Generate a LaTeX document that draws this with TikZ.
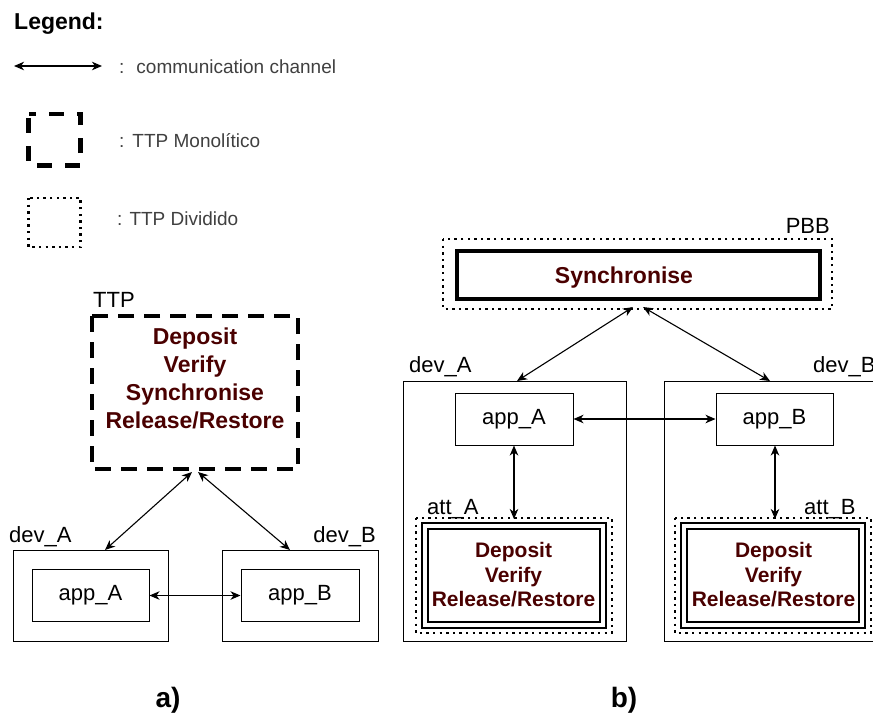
\documentclass[tikz,border=0pt]{standalone}
\usepackage{fontspec}
\setmainfont{Liberation Sans}
\usetikzlibrary{arrows.meta,calc}

\definecolor{fn}{HTML}{4A0000}
\definecolor{legendgray}{HTML}{404040}

\tikzset{
  chan/.style={{Stealth[length=10pt,width=8.5pt,inset=3pt]}-{Stealth[length=10pt,width=8.5pt,inset=3pt]}, line width=1.1pt},
  devbox/.style={draw, line width=1pt},
  appbox/.style={draw, line width=1pt, font=\fontsize{22}{26}\selectfont, inner sep=0pt},
  lbl/.style={font=\fontsize{22}{26}\selectfont, inner sep=0pt},
  monolith/.style={draw, line width=4.2pt, dash pattern=on 16pt off 10pt},
  split/.style={draw, line width=2.6pt, dash pattern=on 2.4pt off 4.2pt},
  funcbig/.style={font=\bfseries\fontsize{23}{28}\selectfont, text=fn, align=center, inner sep=0pt},
  funcsmall/.style={font=\bfseries\fontsize{21}{24.5}\selectfont, text=fn, align=center, inner sep=0pt},
  enclave/.style={draw, line width=2pt, double distance=4pt},
  legtxt/.style={font=\fontsize{19}{22}\selectfont, text=legendgray, inner sep=0pt, anchor=base west},
  panel/.style={font=\bfseries\fontsize{28}{32}\selectfont, inner sep=0pt, anchor=base},
}

\begin{document}
\begin{tikzpicture}[x=1pt,y=-1pt]
\clip (0,0) rectangle (873,715);
\fill[white] (0,0) rectangle (873,715);

% ---------------- legend ----------------
\node[font=\bfseries\fontsize{23}{27}\selectfont, inner sep=0pt, anchor=base west] (legend) at (14,29) {Legend:};

\coordinate (lgA) at (14,66);
\coordinate (lgB) at (102,66);
\draw[chan] (lgA) -- (lgB);
\node[legtxt] (lgchan) at (119,73) {:\hspace{12pt}communication channel};

\draw[monolith, line width=4.5pt, dash pattern=on 15pt off 13pt, dash phase=-4pt] (28.5,114) rectangle (80.5,165.5);
\node[legtxt] (lgmono) at (119,147) {:\hspace{8pt}TTP Monolítico};

\draw[split] (28.5,198) rectangle (80.5,247);
\node[legtxt] (lgsplit) at (117,225) {: TTP Dividido};

% ---------------- a) monolithic TTP ----------------
\draw[monolith] (92,316) rectangle (298,469);
\coordinate (ttpS) at (195,471);
\node[lbl, anchor=base west] (ttplbl) at (93,307) {TTP};
\node[funcbig, anchor=north] (ttpfun) at (195,327.5) {Deposit\\Verify\\Synchronise\\Release/Restore};

\node[devbox, minimum width=155pt, minimum height=91pt, anchor=north west] (devAa) at (13,550) {};
\node[devbox, minimum width=156pt, minimum height=91pt, anchor=north west] (devBa) at (222,550) {};
\node[lbl, anchor=base west] (devAalbl) at (9,542) {dev\_A};
\node[lbl, anchor=base east] (devBalbl) at (376,542) {dev\_B};

\node[appbox, minimum width=117pt, minimum height=52pt] (appAa) at (90.5,595.5) {app\_A};
\node[appbox, minimum width=118pt, minimum height=52pt] (appBa) at (300,595.5) {app\_B};

\draw[chan] ($(ttpS)+(-3,1)$) -- ($(devAa.north west)+(92,0)$);
\draw[chan] ($(ttpS)+(3,1)$) -- ($(devBa.north west)+(68,0)$);
\draw[chan] (appAa.east) -- (appBa.west);

% ---------------- b) split TTP ----------------
\draw[split] (443,239) rectangle (832,309);
\node[lbl, anchor=base east] (pbblbl) at (830,233) {PBB};
\draw[line width=3.6pt] (457,251) rectangle (820,299);
\coordinate (pbbS) at (638,307);
\node[font=\bfseries\fontsize{23}{28}\selectfont, text=fn, inner sep=0pt, anchor=base] (sync) at (624,283) {Synchronise};

\node[devbox, minimum width=223pt, minimum height=260pt, anchor=north west] (devAb) at (403,381) {};
\node[devbox, minimum width=223pt, minimum height=260pt, anchor=north west] (devBb) at (664,381) {};
\node[lbl, anchor=base west] (devAblbl) at (409,372) {dev\_A};
\node[lbl, anchor=base west] (devBblbl) at (813,372) {dev\_B};

\node[appbox, minimum width=118pt, minimum height=52pt] (appAb) at (514,419) {app\_A};
\node[appbox, minimum width=117pt, minimum height=52pt] (appBb) at (774.5,419) {app\_B};

% attested enclaves
\draw[split] (416,518) rectangle (612,633);
\draw[enclave] (425,526) rectangle (603,624.5);
\coordinate (attAN) at (514,519);
\node[lbl, anchor=base west] (attAlbl) at (427,514) {att\_A};
\node[funcsmall, anchor=north] (attAfun) at (513.5,542.5) {Deposit\\Verify\\Release/Restore};

\draw[split] (675,518) rectangle (871,633);
\draw[enclave] (684,526) rectangle (862,624.5);
\coordinate (attBN) at (775,519);
\node[lbl, anchor=base west] (attBlbl) at (804,514) {att\_B};
\node[funcsmall, anchor=north] (attBfun) at (773.5,542.5) {Deposit\\Verify\\Release/Restore};

\draw[chan] ($(pbbS)+(-5,0)$) -- ($(devAb.north west)+(114,0)$);
\draw[chan] ($(pbbS)+(5,0)$) -- ($(devBb.north west)+(106,0)$);
\draw[chan] (appAb.east) -- (appBb.west);
\draw[chan] (appAb.south) -- (attAN);
\draw[chan] (appBb.south -| attBN) -- (attBN);

% ---------------- panel captions ----------------
\node[panel] (capa) at (168,707) {a)};
\node[panel] (capb) at (624,707) {b)};
\end{tikzpicture}
\end{document}
